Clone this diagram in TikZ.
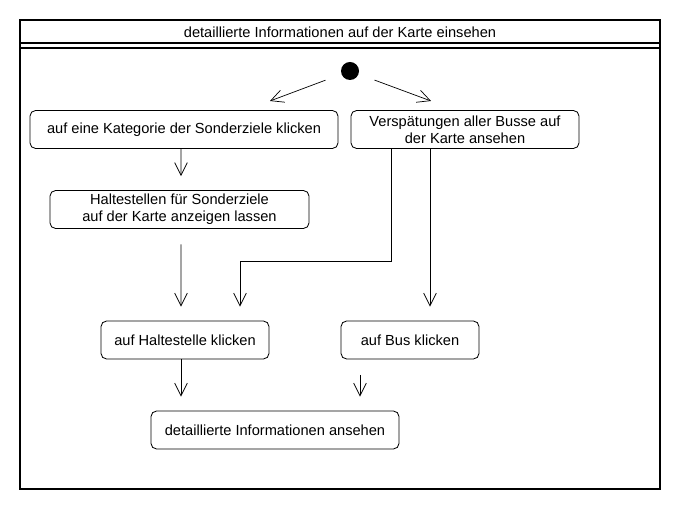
\documentclass[tikz,border=0pt]{standalone}
\usepackage{fontspec}
\setmainfont{Liberation Sans}
\usetikzlibrary{arrows.meta,calc}

\begin{document}
\begin{tikzpicture}[x=0.025cm, y=-0.025cm,
  act/.style={rectangle, draw, rounded corners=4pt, minimum height=0.95cm, align=center, font=\fontsize{10.4}{12}\selectfont, inner sep=2pt, line width=0.6pt},
  flow/.style={-{Straight Barb[length=9pt, width=9pt]}, line width=0.5pt},
  frame/.style={line width=0.8pt}
]
  \useasboundingbox (0,0) rectangle (680,510);

  % Frame with title
  \draw[frame] (20,20) rectangle (660,489);
  \draw[frame] (20,43) -- (660,43);
  \draw[frame] (20,48) -- (660,48);
  \node[font=\fontsize{10.4}{12}\selectfont] (titel) at (340,32) {detaillierte Informationen auf der Karte einsehen};

  % Start
  \node[circle, fill=black, minimum size=0.45cm, inner sep=0pt] (start) at (350,71) {};

  % Activities
  \node[act, minimum width=7.7cm] (kategorie) at (184,129.5) {auf eine Kategorie der Sonderziele klicken};
  \node[act, minimum width=5.7cm] (verspaetung) at (465,129.5) {Verspätungen aller Busse auf\\der Karte ansehen};
  \node[act, minimum width=6.475cm] (anzeigen) at (179.5,209.5) {Haltestellen für Sonderziele\\auf der Karte anzeigen lassen};
  \node[act, minimum width=4.2cm] (haltestelle) at (185,340) {auf Haltestelle klicken};
  \node[act, minimum width=3.45cm] (bus) at (410,340) {auf Bus klicken};
  \node[act, minimum width=6.2cm] (details) at (275,430) {detaillierte Informationen ansehen};

  % Helper points
  \coordinate (links) at (270,101);
  \coordinate (rechts) at (431,101);
  \coordinate (knick1) at (391,261);
  \coordinate (knick2) at (240,261);

  % Start arrows
  \draw[flow, shorten <=12] (start) -- (links);
  \draw[flow, shorten <=12] (start) -- (rechts);

  % Left branch
  \draw[flow, shorten >=10] ($(kategorie.south)+(-3,0)$) -- ($(anzeigen.north)+(1.5,0)$);
  \draw[flow, shorten <=11, shorten >=10] ($(anzeigen.south)+(1.5,0)$) -- ($(haltestelle.north)+(-4,0)$);

  % Right branch
  \draw[flow, shorten >=10] (knick1 |- verspaetung.south) -- (knick1) -- (knick2) -- (knick2 |- haltestelle.north);
  \draw[flow, shorten >=10] ($(verspaetung.south)+(-35,0)$) -- ($(bus.north)+(20,0)$);

  % To details
  \draw[flow, shorten >=10] ($(haltestelle.south)+(-4,0)$) -- ($(details.north)+(-94,0)$);
  \draw[flow, shorten <=11, shorten >=10] ($(bus.south)+(-50,0)$) -- ($(details.north)+(85,0)$);
\end{tikzpicture}
\end{document}
